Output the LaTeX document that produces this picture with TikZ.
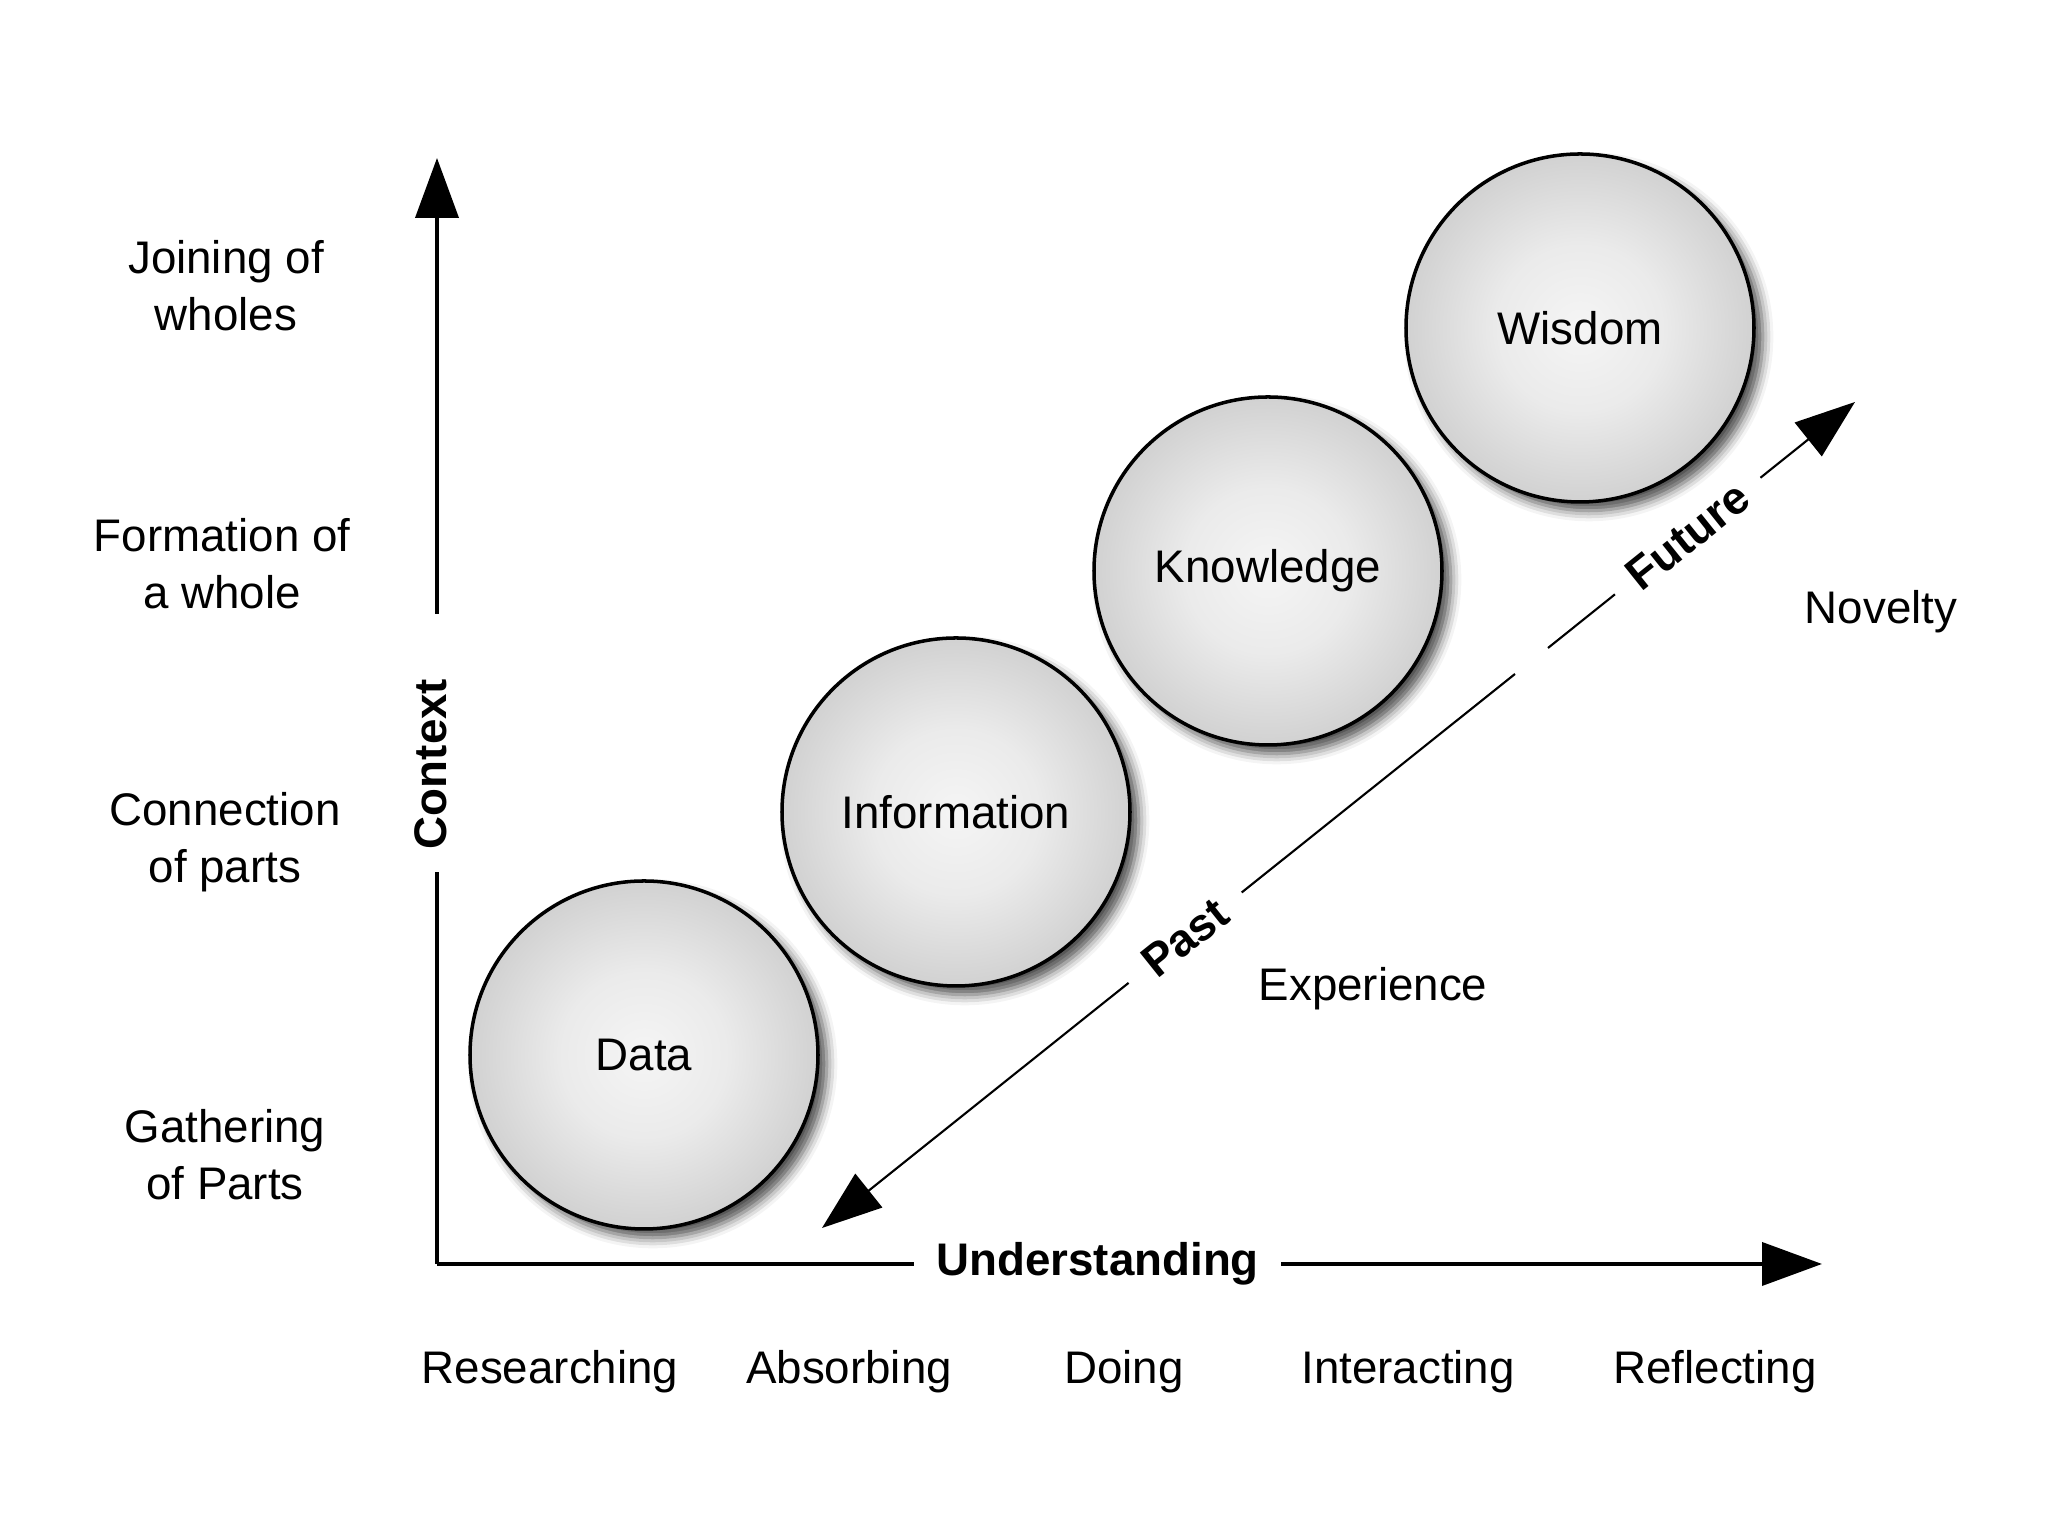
\documentclass[tikz,border=0pt]{standalone}
\usepackage{fontspec}
\setmainfont{Liberation Sans}
\usepackage{tikz}
\usetikzlibrary{arrows.meta, shadows.blur}
\pgfdeclareradialshading{orbshade}{\pgfpoint{0bp}{0bp}}{color(0bp)=(black!4); color(12bp)=(black!8); color(50bp)=(black!37)}

\begin{document}
\begin{tikzpicture}[->,>={Triangle[length=6mm,width=4.3mm]},semithick]
\tikzstyle{orb}=[circle,draw=black,line width=1pt,shade,shading=orbshade,minimum size=3.48cm,inner sep=0pt,
                 blur shadow={shadow xshift=2.5pt,shadow yshift=-2.5pt,shadow blur radius=3pt,shadow opacity=70}]
\tikzstyle{axis}=[line width=1.1pt]
\tikzstyle{timeline}=[line width=0.6pt]
\tikzstyle{lbl}=[align=center]
\tikzstyle{boldlbl}=[font=\fontsize{13pt}{16.3pt}\selectfont\bfseries]
\tikzset{font=\fontsize{13pt}{16.3pt}\selectfont}

        \useasboundingbox (0,0) rectangle (20.48,15.36);

        \coordinate (O)       at (4.37,2.72);
        \coordinate (xtip)    at (18.22,2.72);
        \coordinate (ytip)    at (4.37,13.78);
        \coordinate (ctxlo)   at (4.37,6.64);
        \coordinate (ctxhi)   at (4.37,9.22);
        \coordinate (pasttip) at (8.22,3.08);
        \coordinate (futtip)  at (18.55,11.34);
        \coordinate (now1)    at (15.15,8.62);
        \coordinate (now2)    at (15.48,8.88);

        \node[orb]                                (data)  at (6.44,4.81)   {Data};
        \node[orb]                                (info)  at (9.56,7.24)   {Information};
        \node[orb]                                (know)  at (12.68,9.65)  {Knowledge};
        \node[orb]                                (wis)   at (15.80,12.08) {Wisdom};

        \node[lbl]                                (join)  at (2.26,12.50)  {Joining of\\wholes};
        \node[lbl]                                (form)  at (2.22,9.72)   {Formation of\\a whole};
        \node[lbl]                                (conn)  at (2.25,6.94)   {Connection\\of parts};
        \node[lbl]                                (gath)  at (2.25,3.81)   {Gathering\\of Parts};

        \node[lbl]                                (res)   at (5.50,1.64)   {Researching};
        \node[lbl]                                (abs)   at (8.49,1.64)   {Absorbing};
        \node[lbl]                                (doing) at (11.24,1.64)  {Doing};
        \node[lbl]                                (inter) at (14.08,1.64)  {Interacting};
        \node[lbl]                                (refl)  at (17.15,1.64)  {Reflecting};

        \node[lbl]                                (exp)   at (13.73,5.47)  {Experience};
        \node[lbl]                                (nov)   at (18.81,9.24)  {Novelty};

        \node[boldlbl, rotate=90]                 (ctx)   at (4.31,7.72)   {Context};

        \path
        (O)     edge[-,axis]  (ctxlo)
        (ctxhi) edge[axis]    (ytip)
        (O)     edge[axis]     node[boldlbl, pos=0.477, fill=white, inner xsep=0.22cm] {Understanding} (xtip)
        (now1)  edge[timeline] node[boldlbl, pos=0.476, sloped, fill=white, inner xsep=0.24cm] {Past}   (pasttip)
        (now2)  edge[timeline] node[boldlbl, pos=0.455, sloped, fill=white, inner xsep=0.22cm] {Future} (futtip)
        ; %end path

\end{tikzpicture}
\end{document}
